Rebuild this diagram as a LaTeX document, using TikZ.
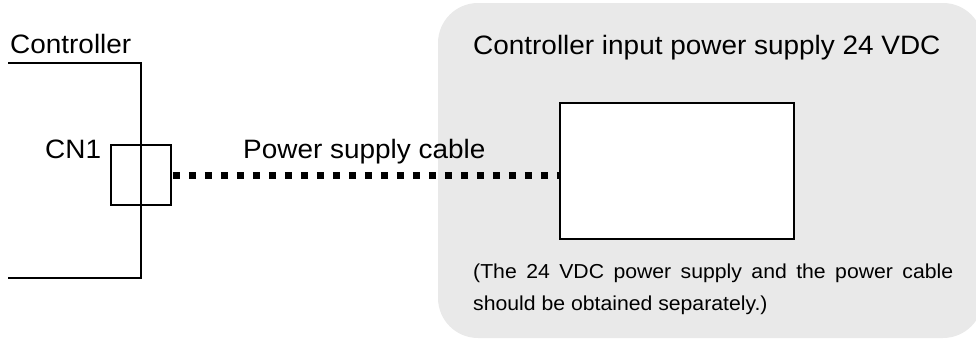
\documentclass[tikz,border=0pt]{standalone}
\usepackage{fontspec}
\setmainfont{Liberation Sans}[FakeStretch=1.05]
\definecolor{panelgray}{RGB}{233,233,233}
\begin{document}
\begin{tikzpicture}[x=1pt,y=-1pt,
  lbl/.style={inner sep=0pt,anchor=base west,font=\fontsize{26.6}{30}\selectfont},
  note/.style={inner sep=0pt,anchor=base west,font=\fontsize{20.2}{24}\selectfont},
  wire/.style={line width=1.5pt,black},
  cable/.style={line width=7pt,dash pattern=on 7.5pt off 8.5pt},
  panel/.style={fill=panelgray,draw=none,rounded corners=40pt}]
\useasboundingbox (0,0) rectangle (976,340);
\clip (0,0) rectangle (976,340);
% gray panel
\path[panel] (438,3) rectangle (983,338);
% texts
\node[lbl] (ctrl) at (10,53) {Controller};
\node[lbl] (title) at (473,54) {Controller input power supply 24 VDC};
\node[lbl] (cnlbl) at (45,158) {CN1};
\node[lbl] (cablelbl) at (243,158) {Power supply cable};
\node[note] (note1) at (473,278) {\makebox[480pt][s]{(The 24 VDC power supply and the power cable}};
\node[note] (note2) at (473,310) {should be obtained separately.)};
% controller outline
\coordinate (c1) at (8,63);
\coordinate (c2) at (141,63);
\coordinate (c3) at (141,278);
\coordinate (c4) at (8,278);
\draw[wire] (c1) -- (c2) -- (c3) -- (c4);
% connector CN1
\node[wire,draw,minimum width=60pt,minimum height=60pt,inner sep=0pt] (cn1) at (141,175) {};
\draw[wire] (c2) -- (c3);
% power supply box
\node[wire,draw,fill=white,minimum width=234pt,minimum height=136pt,inner sep=0pt] (psu) at (677,171) {};
% cable
\draw[cable] ([xshift=1pt]cn1.east) -- (cn1.east -| psu.west);
\end{tikzpicture}
\end{document}
